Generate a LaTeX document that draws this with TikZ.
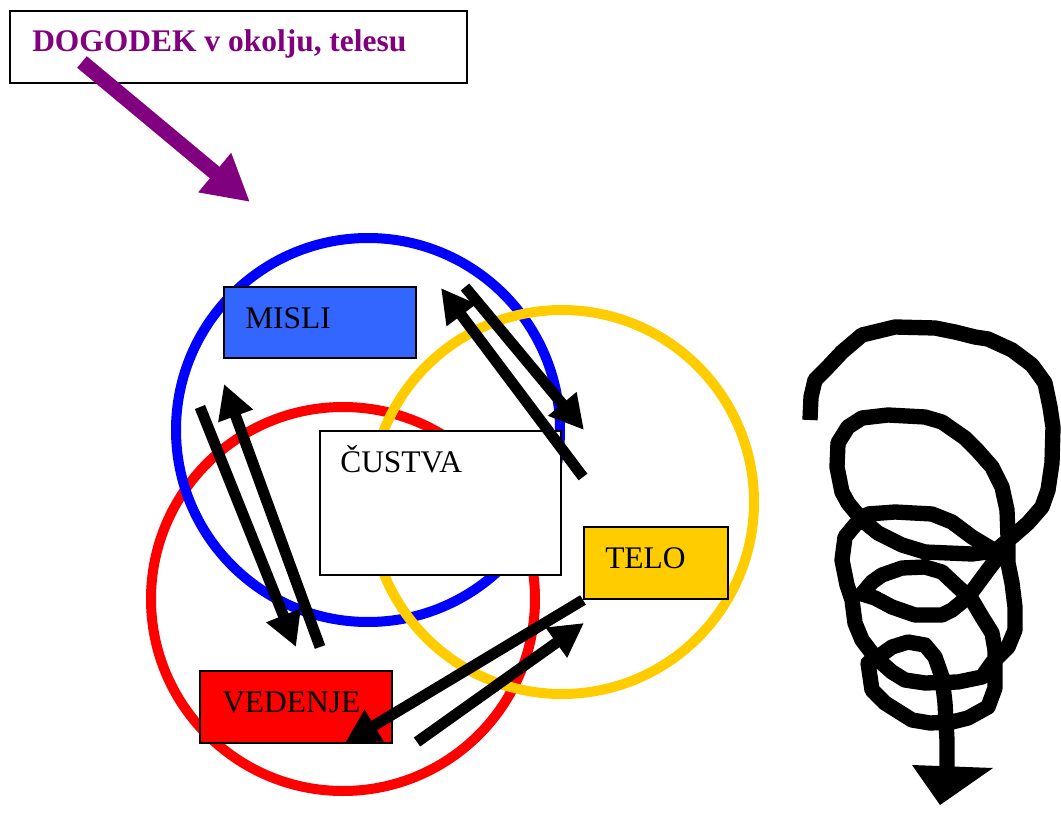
\documentclass[tikz,border=0pt]{standalone}
\usepackage{fontspec}
\setmainfont{Liberation Serif}
\usetikzlibrary{arrows.meta}
\definecolor{ringblue}{HTML}{0000FF}
\definecolor{ringred}{HTML}{FF0000}
\definecolor{ringyellow}{HTML}{FFCC00}
\definecolor{mislifill}{HTML}{3366FF}
\definecolor{evpurple}{HTML}{800080}
\begin{document}
\begin{tikzpicture}[x=0.75pt,y=-0.75pt,
  ring/.style={line width=7.5pt},
  box/.style={draw=black, line width=1.1pt, rectangle, inner sep=0pt},
  lbl/.style={anchor=base west, inner sep=0pt, font=\fontsize{23.6pt}{28pt}\selectfont},
  blk/.style={line width=8.25pt, -{Triangle[length=25.5pt,width=26pt]}},
  purplearrow/.style={evpurple, line width=11.25pt, -{Triangle[length=34.5pt,width=36pt]}},
  coil/.style={line width=11.5pt, line join=round}]
\useasboundingbox (0,0) rectangle (1061,820);

% rings
\draw[ring, ringred] (343,599) circle [radius=144pt];
\draw[ring, ringblue] (368,430) circle [radius=144pt];
\draw[ring, ringyellow] (562,502) circle [radius=144pt];

% boxes
\node[box, line width=1.5pt, fill=white, minimum width=342.75pt, minimum height=54pt] (event) at (238.5,47) {};
\node[box, fill=mislifill, minimum width=144pt, minimum height=53.25pt] (misli) at (320,322.5) {};
\node[box, fill=white, minimum width=180.75pt, minimum height=108pt] (custva) at (440.5,503) {};
\node[box, fill=ringyellow, minimum width=108pt, minimum height=54pt] (telo) at (656,563) {};
\node[box, fill=ringred, minimum width=144pt, minimum height=54pt] (vedenje) at (296,707) {};

% labels
\node[lbl, font=\fontsize{23.6pt}{28pt}\selectfont\bfseries, text=evpurple] (eventtxt) at (32,52) {DOGODEK v okolju, telesu};
\node[lbl] (mislitxt) at (245,328) {MISLI};
\node[lbl] (custvatxt) at (340,472) {ČUSTVA};
\node[lbl] (telotxt) at (605,568) {TELO};
\node[lbl] (vedenjetxt) at (222,712) {VEDENJE};

% arrow end points
\coordinate (a1s) at (200,407); \coordinate (a1e) at (296,647);
\coordinate (a2s) at (320,647); \coordinate (a2e) at (224,384);
\coordinate (a3s) at (583,477); \coordinate (a3e) at (441,288);
\coordinate (a4s) at (465,287); \coordinate (a4e) at (584,430);
\coordinate (a5s) at (583,600); \coordinate (a5e) at (345,743);
\coordinate (a6s) at (417,742); \coordinate (a6e) at (584,623);
\coordinate (ps) at (82,62); \coordinate (pe) at (250,202);

\draw[blk] (a1s) -- (a1e);
\draw[blk] (a2s) -- (a2e);
\draw[blk] (a3s) -- (a3e);
\draw[blk] (a4s) -- (a4e);
\draw[blk] (a5s) -- (a5e);
\draw[blk] (a6s) -- (a6e);
\draw[purplearrow] (ps) -- (pe);

% coil
\draw[coil] (810,420) -- (811,397) -- (815,380) -- (827,368) -- (842,352) -- (862,335)
  -- (895,327) -- (935,328) -- (955,332) -- (975,337) -- (988,339) -- (1012,350)
  -- (1032,365) -- (1045,383) -- (1050,407) -- (1053,427) -- (1052,463) -- (1048,490)
  -- (1042,507) -- (1028,523) -- (1012,537) -- (995,551) -- (972,554) -- (925,552)
  -- (902,545) -- (878,533) -- (862,520) -- (848,503) -- (842,492) -- (837,467)
  -- (838,443) -- (848,427) -- (862,418) -- (888,415) -- (925,417) -- (942,422)
  -- (965,438) -- (977,450) -- (992,467) -- (1002,487) -- (1007,510) -- (1008,537)
  -- (1008,563) -- (1012,583) -- (1015,607) -- (1015,630) -- (1008,647) -- (992,663)
  -- (982,677) -- (958,682) -- (925,683) -- (905,680) -- (892,672) -- (875,657)
  -- (862,640) -- (855,623) -- (852,600) -- (847,585) -- (842,560) -- (845,537)
  -- (855,525) -- (868,514) -- (895,512) -- (932,514) -- (952,522) -- (972,537)
  -- (992,549) -- (998,557) -- (988,570) -- (968,597) -- (952,610) -- (942,615)
  -- (915,615) -- (892,607) -- (875,598) -- (862,594) -- (872,582) -- (882,575)
  -- (902,568) -- (925,567) -- (942,572) -- (958,587) -- (972,600) -- (982,617)
  -- (992,633) -- (995,650) -- (995,688) -- (988,707) -- (968,718) -- (952,722)
  -- (930,723) -- (912,720) -- (885,703) -- (872,690) -- (868,663) -- (878,657)
  -- (892,647) -- (908,642) -- (925,645) -- (935,657) -- (942,677) -- (945,703)
  -- (947,740) -- (947,767);
\fill (912,765) -- (993,768) -- (940,805) -- cycle;
\end{tikzpicture}
\end{document}
